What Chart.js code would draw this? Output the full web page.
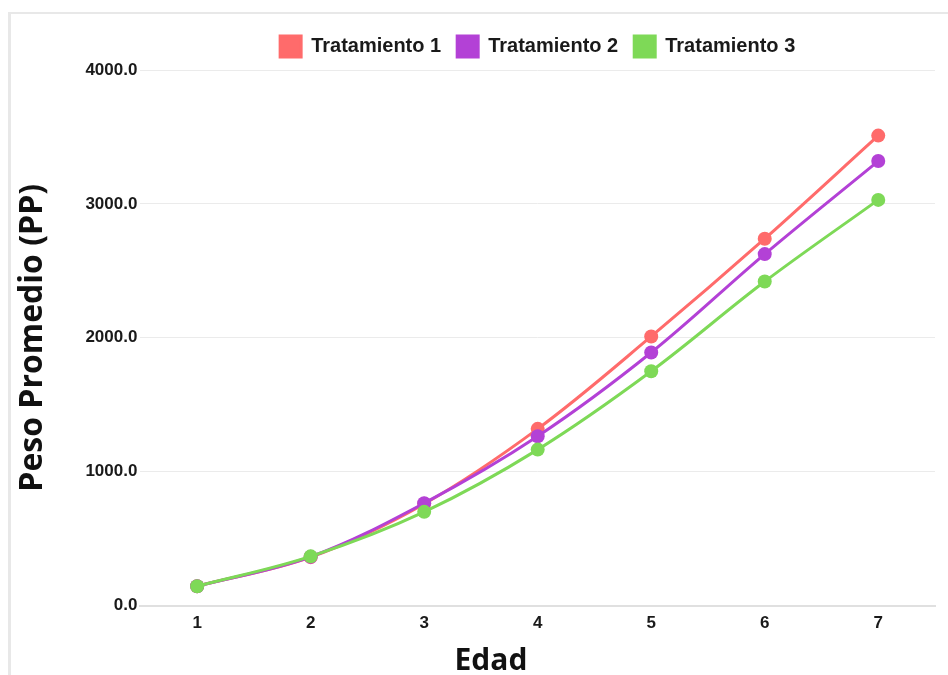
<!DOCTYPE html>
<html lang="es">
<head>
    <meta charset="UTF-8">
    <title>Peso Promedio por Edad</title>
    <script src="https://cdn.jsdelivr.net/npm/chart.js@4.4.1/dist/chart.umd.min.js"></script>
    <style>
        body {
            margin: 0;
            padding: 0;
            background: #ffffff;
        }
        .frame {
            position: absolute;
            left: 8px;
            top: 12px;
            width: 937px;
            height: 661px;
            border-left: 3px solid #e8e8e8;
            border-top: 2px solid #e8e8e8;
        }
    </style>
</head>
<body>
    <div class="frame">
        <canvas id="pesoChart" width="937" height="661"></canvas>
    </div>

    <script>
        const edades = ['1', '2', '3', '4', '5', '6', '7'];
        const tratamiento1 = [145, 362, 760, 1320, 2010, 2740, 3510];
        const tratamiento2 = [145, 365, 765, 1265, 1890, 2625, 3320];
        const tratamiento3 = [145, 368, 700, 1165, 1750, 2420, 3030];
        const yTicks = [0, 1000, 2000, 3000, 4000];

        const colores = ['#ff6b6b', '#b341d6', '#7ed957'];

        // el ultimo tratamiento se dibuja encima, como en la figura
        function serie(label, data, color, orden) {
            return {
                label: label,
                data: data,
                order: orden,
                borderColor: color,
                backgroundColor: color,
                borderWidth: 3,
                pointRadius: 7,
                pointHoverRadius: 7,
                pointBorderWidth: 0,
                tension: 0.35,
                fill: false
            };
        }

        // un poco mas de aire bajo la leyenda
        const espacioLeyenda = {
            id: 'espacioLeyenda',
            beforeInit: function (chart) {
                const fit = chart.legend.fit;
                chart.legend.fit = function () {
                    fit.call(this);
                    this.height += 3;
                };
            }
        };

        const fuenteEje = { family: 'Liberation Sans, Arial', size: 17, weight: 'bold' };

        new Chart(document.getElementById('pesoChart'), {
            type: 'line',
            data: {
                labels: edades,
                datasets: [
                    serie('Tratamiento 1', tratamiento1, colores[0], 3),
                    serie('Tratamiento 2', tratamiento2, colores[1], 2),
                    serie('Tratamiento 3', tratamiento3, colores[2], 1)
                ]
            },
            plugins: [espacioLeyenda],
            options: {
                responsive: false,
                animation: false,
                layout: {
                    padding: { top: 6, right: 13, left: 3, bottom: -4 }
                },
                plugins: {
                    legend: {
                        position: 'top',
                        fullSize: false,
                        labels: {
                            boxWidth: 21,
                            boxHeight: 21,
                            padding: 16,
                            color: '#1a1a1a',
                            font: { family: 'Liberation Sans, Arial', size: 20, weight: 'bold' },
                            sort: function (a, b) { return a.datasetIndex - b.datasetIndex; }
                        }
                    },
                    tooltip: { enabled: false }
                },
                scales: {
                    x: {
                        offset: true,
                        grid: { display: false },
                        border: { color: '#e0e0e0', width: 2 },
                        ticks: {
                            color: '#1a1a1a',
                            padding: 0,
                            font: fuenteEje
                        },
                        title: {
                            display: true,
                            // espacios finales: la etiqueta va algo a la izquierda del centro
                            text: 'Edad            ',
                            color: '#111111',
                            padding: { top: 9, bottom: 0 },
                            font: { family: 'Open Sans', size: 30, weight: 'bold' }
                        }
                    },
                    y: {
                        min: 0,
                        max: 4000,
                        afterBuildTicks: function (axis) {
                            axis.ticks = yTicks.map(function (v) { return { value: v }; });
                        },
                        grid: { color: '#ebebeb', lineWidth: 1, drawTicks: false },
                        border: { display: false },
                        ticks: {
                            color: '#1a1a1a',
                            padding: 3,
                            font: fuenteEje,
                            callback: function (value) { return Number(value).toFixed(1); }
                        },
                        title: {
                            display: true,
                            text: 'Peso Promedio (PP)',
                            color: '#111111',
                            padding: { top: 0, bottom: 30 },
                            font: { family: 'Open Sans', size: 32, weight: 'bold' }
                        }
                    }
                }
            }
        });
    </script>
</body>
</html>
